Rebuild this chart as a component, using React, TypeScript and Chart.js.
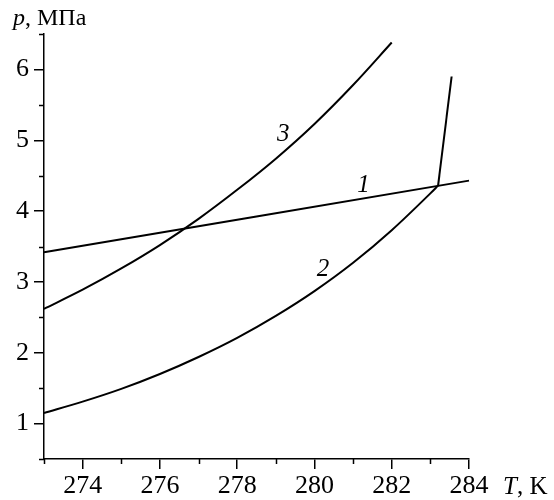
import React, { useEffect, useRef } from "react";
import { Chart, registerables } from "chart.js";

Chart.register(...registerables);

// Curve 1 (straight line)
const T1 = [273, 284];
const P1 = [3.42, 4.43];
// Curve 2
const T2 = [273, 274, 275, 276, 277, 278, 279, 280, 281, 282, 283, 283.2];
const P2 = [1.15, 1.31, 1.49, 1.7, 1.94, 2.21, 2.52, 2.87, 3.27, 3.73, 4.25, 4.36];
// Curve 3
const T3 = [273, 274, 275, 276, 277, 278, 279, 280, 281, 282];
const P3 = [2.62, 2.89, 3.19, 3.52, 3.89, 4.3, 4.74, 5.23, 5.78, 6.38];
// Steep branch
const T4 = [283.2, 283.55];
const P4 = [4.36, 5.9];

const X_TICKS = [274, 276, 278, 280, 282, 284];
const X_MINOR = [273, 275, 277, 279, 281, 283];
const Y_TICKS = [1, 2, 3, 4, 5, 6];
const Y_MINOR = [0.5, 1.5, 2.5, 3.5, 4.5, 5.5, 6.5];

const CURVE_LABELS = ["1", "2", "3"];
const CURVE_LABEL_T = [281.27, 280.22, 279.19];
const CURVE_LABEL_P = [4.36, 3.18, 5.08];

const FONT = "'Liberation Serif', 'Times New Roman', serif";

const toPts = (t: number[], p: number[]) => t.map((x, i) => ({ x, y: p[i] }));

export default function App() {
  const ref = useRef<HTMLCanvasElement | null>(null);

  useEffect(() => {
    document.body.style.margin = "0";
    const canvas = ref.current;
    if (!canvas) return;

    const overlay = {
      id: "overlay",
      afterDraw(chart: any) {
        const ctx = chart.ctx;
        const xs = chart.scales.x;
        const ys = chart.scales.y;
        const area = chart.chartArea;
        ctx.save();
        ctx.strokeStyle = "#000";
        ctx.lineWidth = 1.5;
        ctx.beginPath();
        X_MINOR.forEach((v) => {
          const px = Math.round(xs.getPixelForValue(v)) + 0.5;
          ctx.moveTo(px, area.bottom);
          ctx.lineTo(px, area.bottom + 5);
        });
        Y_MINOR.forEach((v) => {
          const py = Math.round(ys.getPixelForValue(v)) + 0.5;
          ctx.moveTo(area.left - 5, py);
          ctx.lineTo(area.left, py);
        });
        ctx.stroke();

        ctx.fillStyle = "#000";
        ctx.textBaseline = "alphabetic";
        // y title
        ctx.textAlign = "left";
        ctx.font = `italic 24px ${FONT}`;
        ctx.fillText("p", 13, 25);
        let w = ctx.measureText("p").width;
        ctx.font = `24px ${FONT}`;
        ctx.fillText(", МПа", 13 + w, 25);
        // x title
        ctx.font = `italic 25px ${FONT}`;
        ctx.fillText("T", 503, 494);
        w = ctx.measureText("T").width;
        ctx.font = `25px ${FONT}`;
        ctx.fillText(", K", 503 + w, 494);

        // curve labels
        ctx.font = `italic 25px ${FONT}`;
        ctx.textAlign = "center";
        ctx.textBaseline = "middle";
        CURVE_LABELS.forEach((lab, i) => {
          ctx.fillText(lab, xs.getPixelForValue(CURVE_LABEL_T[i]), ys.getPixelForValue(CURVE_LABEL_P[i]));
        });
        ctx.restore();
      },
    };

    const ds = (t: number[], p: number[]) => ({
      data: toPts(t, p),
      showLine: true,
      borderColor: "#000",
      borderWidth: 2,
      pointRadius: 0,
      cubicInterpolationMode: "monotone" as const,
      fill: false,
      clip: false as any,
    });

    const chart = new Chart(canvas, {
      type: "scatter",
      data: {
        datasets: [ds(T1, P1), ds(T2, P2), ds(T3, P3), ds(T4, P4)],
      },
      options: {
        responsive: false,
        animation: false,
        devicePixelRatio: 1,
        layout: { padding: { left: 0, top: 34, right: 85, bottom: 0 } },
        plugins: { legend: { display: false }, tooltip: { enabled: false } },
        scales: {
          x: {
            type: "linear",
            min: 273,
            max: 284,
            afterBuildTicks: (s: any) => {
              s.ticks = X_TICKS.map((v) => ({ value: v }));
            },
            afterFit: (s: any) => {
              s.height = 41;
            },
            grid: {
              drawOnChartArea: false,
              drawTicks: true,
              tickLength: 10,
              color: "#000",
              lineWidth: 1.5,
            },
            border: { display: true, color: "#000", width: 1.5 },
            ticks: {
              color: "#000",
              padding: 2,
              maxRotation: 0,
              autoSkip: false,
              font: { family: FONT, size: 26 },
              callback: (v: any) => String(v),
            },
          },
          y: {
            type: "linear",
            min: 0.5,
            max: 6.5,
            afterBuildTicks: (s: any) => {
              s.ticks = Y_TICKS.map((v) => ({ value: v }));
            },
            afterFit: (s: any) => {
              s.width = 44;
            },
            grid: {
              drawOnChartArea: false,
              drawTicks: true,
              tickLength: 10,
              color: "#000",
              lineWidth: 1.5,
            },
            border: { display: true, color: "#000", width: 1.5 },
            ticks: {
              color: "#000",
              padding: 5,
              autoSkip: false,
              font: { family: FONT, size: 26 },
              callback: (v: any) => String(v),
            },
          },
        },
      },
      plugins: [overlay],
    });

    return () => chart.destroy();
  }, []);

  return (
    <div style={{ position: "absolute", left: 0, top: 0, width: 554, height: 500, background: "#fff" }}>
      <canvas ref={ref} width={554} height={500} />
    </div>
  );
}
